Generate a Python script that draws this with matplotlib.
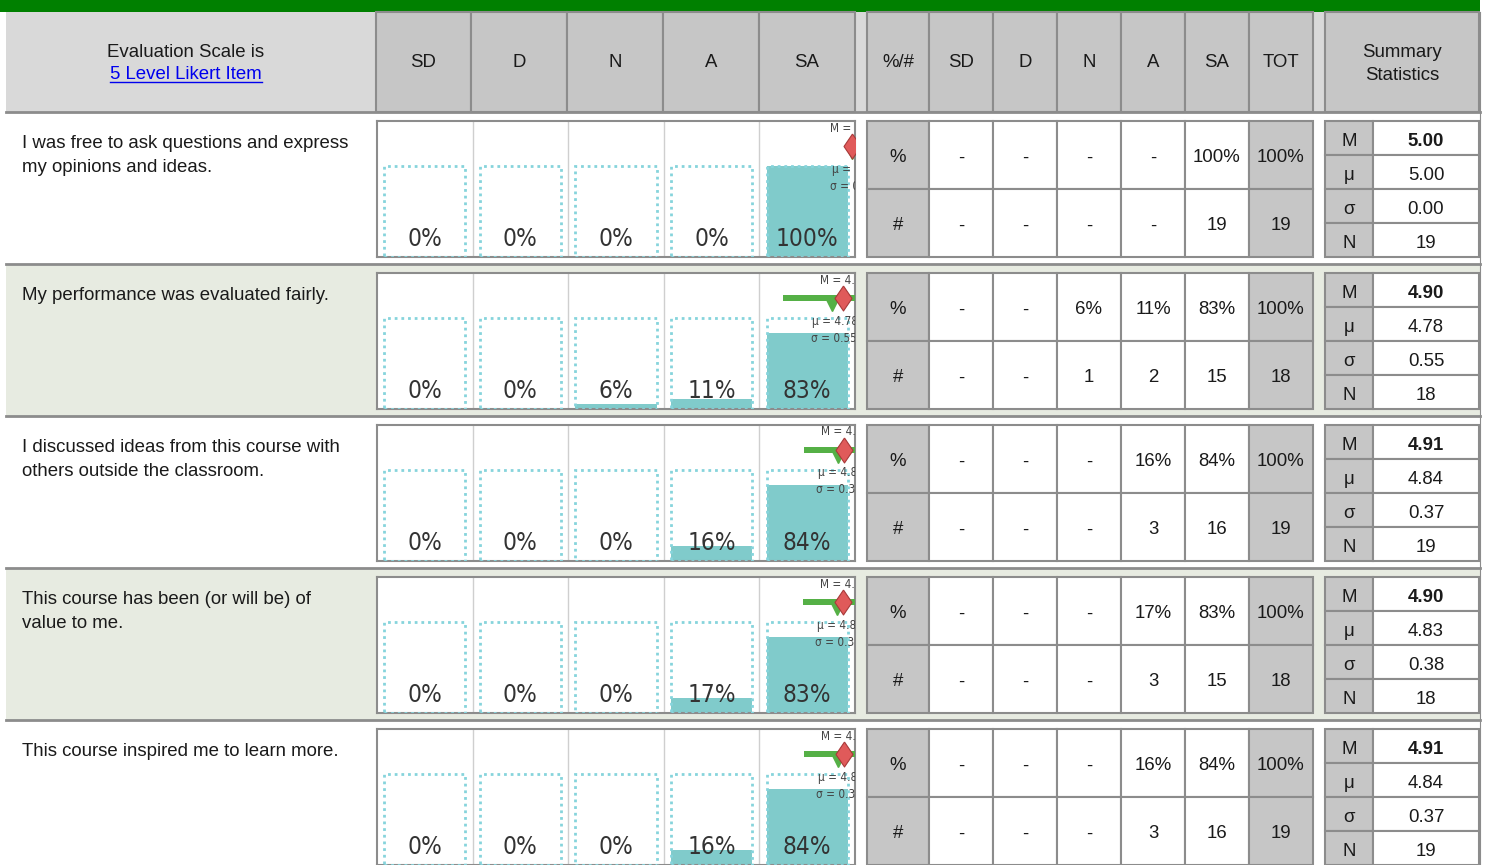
import numpy as np
import matplotlib
matplotlib.use('Agg')
import matplotlib.pyplot as plt
from matplotlib.patches import Rectangle
from matplotlib import font_manager
from matplotlib.font_manager import FontProperties

# ---- data ----
questions = [
    ['I was free to ask questions and express', 'my opinions and ideas.'],
    ['My performance was evaluated fairly.'],
    ['I discussed ideas from this course with', 'others outside the classroom.'],
    ['This course has been (or will be) of', 'value to me.'],
    ['This course inspired me to learn more.'],
]
levels = ['SD', 'D', 'N', 'A', 'SA']
pct = [[0, 0, 0, 0, 100],
       [0, 0, 6, 11, 83],
       [0, 0, 0, 16, 84],
       [0, 0, 0, 17, 83],
       [0, 0, 0, 16, 84]]
counts = [[0, 0, 0, 0, 19],
          [0, 0, 1, 2, 15],
          [0, 0, 0, 3, 16],
          [0, 0, 0, 3, 15],
          [0, 0, 0, 3, 16]]
medians = [5.00, 4.90, 4.91, 4.90, 4.91]
means = [5.00, 4.78, 4.84, 4.83, 4.84]
sds = [0.00, 0.55, 0.37, 0.38, 0.37]
ns = [19, 18, 19, 18, 19]

W, H = 1486, 865
SANS = 'Liberation Sans'
FS = 13.4
GRID = '#8c8c8c'
HEAD = '#c6c6c6'
LIGHT = '#d9d9d9'
ALT = '#e7ebe1'
TEAL = '#80cbcb'
DOT = '#86d4dc'
GREEN = '#55b046'
DIAMOND = [(0, 1), (0.68, 0), (0, -1), (-0.68, 0), (0, 1)]


def find_narrow():
    # look for a condensed / narrow regular sans face among installed fonts
    prefs = ['Liberation Sans Narrow', 'DejaVu Sans', 'Roboto', 'Open Sans', 'Noto Sans', 'Lato', 'Inter']
    found = {}
    for f in font_manager.fontManager.ttflist:
        st = str(f.stretch).lower()
        condensed = 'narrow' in f.name.lower() or 'condensed' in st or 'condensed' in f.fname.lower() \
            or 'narrow' in f.fname.lower()
        if not condensed or f.style != 'normal':
            continue
        if str(f.weight) not in ('400', 'normal', 'regular', 'book'):
            if 'bold' in f.fname.lower() or 'light' in f.fname.lower():
                continue
        for p in prefs:
            if f.name.startswith(p.split(' Narrow')[0]) and p not in found:
                found[p] = f.fname
    for p in prefs:
        if p in found:
            return FontProperties(fname=found[p])
    return None


NARROW_FP = find_narrow()

fig = plt.figure(figsize=(W / 100, H / 100), dpi=100)
ax = fig.add_axes([0, 0, 1, 1])
ax.set_xlim(0, W)
ax.set_ylim(H, 0)
ax.axis('off')


def narrow_kw(size):
    if NARROW_FP is not None:
        fp = NARROW_FP.copy()
        fp.set_size(size)
        return dict(fontproperties=fp)
    return dict(family=SANS, fontsize=size * 0.92)


def px_rect(x0, y0, x1, y1):
    return [x0 / W, 1 - y1 / H, (x1 - x0) / W, (y1 - y0) / H]


def cell(x0, y0, x1, y1, fc, lw=1.5, z=2):
    ax.add_patch(Rectangle((x0, y0), x1 - x0, y1 - y0, facecolor=fc,
                           edgecolor=GRID, linewidth=lw, zorder=z))


def txt(x, y, s, **kw):
    kw.setdefault('fontsize', FS)
    kw.setdefault('family', SANS)
    kw.setdefault('color', '#1a1a1a')
    kw.setdefault('ha', 'center')
    kw.setdefault('va', 'center_baseline')
    return ax.text(x, y, s, zorder=5, **kw)


chart_x = [376, 471, 567, 663, 759, 855]
stat_x = [867, 929, 993, 1057, 1121, 1185, 1249, 1313]
stat_heads = ['%/#'] + levels + ['TOT']
sum_x = [1325, 1373, 1479]

# ---- header ----
ax.add_patch(Rectangle((0, 0), 1480, 12, facecolor='#008000', zorder=1))
ax.add_patch(Rectangle((6, 12), 1474, 100, facecolor=LIGHT, zorder=1))
txt(186, 57, 'Evaluation Scale is', va='baseline')
link = txt(186, 79, '5 Level Likert Item', va='baseline', color='#0000ee')
for i, lab in enumerate(levels):
    cell(chart_x[i], 12, chart_x[i + 1], 112, HEAD)
    txt((chart_x[i] + chart_x[i + 1]) / 2, 67, lab, va='baseline')
for i, lab in enumerate(stat_heads):
    cell(stat_x[i], 12, stat_x[i + 1], 112, HEAD)
    txt((stat_x[i] + stat_x[i + 1]) / 2, 67, lab, va='baseline')
cell(sum_x[0], 12, sum_x[2], 112, HEAD)
txt((sum_x[0] + sum_x[2]) / 2, 57, 'Summary', va='baseline')
txt((sum_x[0] + sum_x[2]) / 2, 80, 'Statistics', va='baseline')

fig.canvas.draw()
bb = link.get_window_extent().transformed(ax.transData.inverted())
ax.plot([bb.x0, bb.x1], [82, 82], color='#0000ee', lw=1, zorder=5)

# ---- rows ----
ROW0, RH = 112, 152
for r in range(len(questions)):
    rt = ROW0 + RH * r
    bg = 'white' if r % 2 == 0 else ALT
    ax.add_patch(Rectangle((6, rt), 1474, RH, facecolor=bg, zorder=0.5))
    ax.plot([6, 1480], [rt, rt], color=GRID, lw=2, zorder=3)

    for k, line in enumerate(questions[r]):
        txt(22, rt + 36 + 23.5 * k, line, ha='left', va='baseline')

    # distribution table
    y0, hh = rt + 9, 68
    rows_vals = [['%'] + ['-' if p == 0 else f'{p}%' for p in pct[r]] + ['100%'],
                 ['#'] + ['-' if c == 0 else str(c) for c in counts[r]] + [str(ns[r])]]
    for j, vals in enumerate(rows_vals):
        for i, v in enumerate(vals):
            fc = HEAD if i in (0, len(vals) - 1) else 'white'
            cell(stat_x[i], y0 + hh * j, stat_x[i + 1], y0 + hh * (j + 1), fc)
            txt((stat_x[i] + stat_x[i + 1]) / 2, y0 + hh * j + hh / 2 + 1, v)

    # summary statistics
    labs = ['M', 'μ', 'σ', 'N']
    vals = [f'{medians[r]:.2f}', f'{means[r]:.2f}', f'{sds[r]:.2f}', str(ns[r])]
    for j in range(4):
        ya, yb = y0 + 34 * j, y0 + 34 * (j + 1)
        cell(sum_x[0], ya, sum_x[1], yb, HEAD)
        cell(sum_x[1], ya, sum_x[2], yb, 'white')
        txt((sum_x[0] + sum_x[1]) / 2, (ya + yb) / 2 + 1, labs[j])
        txt((sum_x[1] + sum_x[2]) / 2, (ya + yb) / 2 + 1, vals[j],
            fontweight='bold' if j == 0 else 'normal')

    # mini bar chart
    box = px_rect(377, rt + 9, 855, rt + 145)
    axc = fig.add_axes(box, zorder=2)
    xs = np.arange(5) + 0.5
    axc.bar(xs, pct[r], width=0.85, color=TEAL, zorder=2)
    axc.bar(xs, [100] * 5, width=0.85, fill=False, edgecolor=DOT,
            linestyle=(0, (1, 1.4)), linewidth=2.0, zorder=3)
    for k in range(1, 5):
        axc.axvline(k, color='#cfcfcf', lw=1, zorder=1)
    for i, p in enumerate(pct[r]):
        axc.text(xs[i], 19.5, f'{p}%', ha='center', va='center',
                 color='#333333', zorder=4, **narrow_kw(17.5))
    axc.set_xlim(0, 5)
    axc.set_ylim(0, 136 / 91 * 100)
    axc.set_xticks([])
    axc.set_yticks([])
    for s in axc.spines.values():
        s.set_color(GRID)
        s.set_linewidth(1.5)

    # median / mean / sd marker overlay
    axm = fig.add_axes(box, zorder=3)
    axm.patch.set_visible(False)
    axm.set_xlim(5 - 475 / 90, 5 + 3 / 90)
    axm.set_ylim(136, 0)
    axm.axis('off')
    mu, sd, med = means[r], sds[r], medians[r]
    axm.barh(25, 2 * sd, left=mu - sd, height=6, color=GREEN, zorder=2)
    axm.plot(mu, 32, marker='v', ms=8, color=GREEN, zorder=3)
    axm.plot(med, 25, marker=DIAMOND, ms=18, mfc='#e05a5a', mec='#a83a3a', mew=0.8, zorder=4)
    tkw = dict(ha='left', va='center', color='#444444', clip_on=True, zorder=5)
    tkw.update(narrow_kw(8.5))
    axm.text(med - 0.25, 7, f'M = {med:.2f}', **tkw)
    axm.text(mu - 0.22, 48, f'μ = {mu:.2f}', **tkw)
    axm.text(mu - 0.24, 65, f'σ = {sd:.2f}', **tkw)

ax.plot([1480, 1480], [12, H], color=GRID, lw=0.8, zorder=3)

fig.savefig('out.png', dpi=100)
